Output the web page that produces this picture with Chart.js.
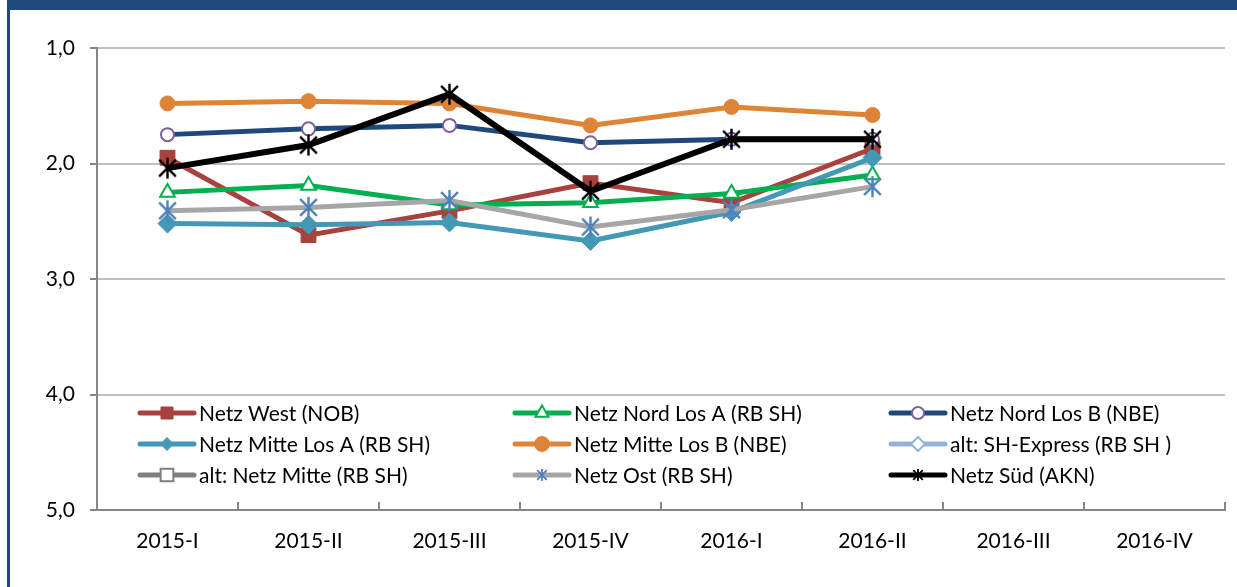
<!DOCTYPE html>
<html>
<head>
<meta charset="utf-8">
<script src="https://cdn.jsdelivr.net/npm/chart.js@4"></script>
<style>
  html, body { margin: 0; padding: 0; background: #fff; }
  #wrap { position: relative; width: 1237px; height: 587px; overflow: hidden; }
  #topbar { position: absolute; left: 7px; top: 0; width: 1230px; height: 10px; background: #1F497D; }
  #leftbar { position: absolute; left: 7px; top: 0; width: 3px; height: 587px; background: #1F497D; }
  #chart { position: absolute; left: 0; top: 0; }
</style>
</head>
<body>
<div id="wrap">
  <canvas id="chart" width="1237" height="587"></canvas>
  <div id="topbar"></div>
  <div id="leftbar"></div>
</div>
<script>
var categories = ['2015-I', '2015-II', '2015-III', '2015-IV', '2016-I', '2016-II', '2016-III', '2016-IV']

var netzWest   = [1.95, 2.62, 2.41, 2.17, 2.34, 1.87]
var nordLosA   = [2.25, 2.19, 2.36, 2.34, 2.26, 2.10]
var nordLosB   = [1.75, 1.70, 1.67, 1.82, 1.79, 1.79]
var mitteLosA  = [2.52, 2.53, 2.51, 2.67, 2.42, 1.95]
var mitteLosB  = [1.48, 1.46, 1.48, 1.67, 1.51, 1.58]
var shExpress  = []
var altMitte   = []
var netzOst    = [2.41, 2.38, 2.32, 2.55, 2.40, 2.20]
var netzSued   = [2.04, 1.84, 1.40, 2.24, 1.79, 1.79]

var yTicks = [1, 2, 3, 4, 5]

var fontFamily = "Lato, 'Open Sans', sans-serif"

// asterisk marker (vertical + x)
function makeStar(color, size, lw) {
    var c = document.createElement('canvas')
    c.width = size; c.height = size
    var g = c.getContext('2d')
    var m = size / 2, r = size / 2 - 1
    g.strokeStyle = color
    g.lineWidth = lw
    g.beginPath()
    g.moveTo(m, m - r); g.lineTo(m, m + r)
    g.moveTo(m - r * 0.8, m - r * 0.8); g.lineTo(m + r * 0.8, m + r * 0.8)
    g.moveTo(m + r * 0.8, m - r * 0.8); g.lineTo(m - r * 0.8, m + r * 0.8)
    g.stroke()
    return c
}

var starBlack = makeStar('#000000', 23, 2.4)
var starBlue = makeStar('#4F81BD', 23, 2.4)
var starBlackSmall = makeStar('#000000', 14, 1.8)
var starBlueSmall = makeStar('#4F81BD', 14, 1.8)

function series(label, data, line, style, radius, fill, border, bw, legendStyle, legendRadius) {
    return {
        label: label,
        data: data,
        borderColor: line,
        backgroundColor: line,
        borderWidth: label == 'Netz Süd (AKN)' ? 6 : 5,
        pointStyle: style,
        pointRadius: radius,
        pointBackgroundColor: fill,
        pointBorderColor: border,
        pointBorderWidth: bw,
        tension: 0,
        fill: false,
        legendStyle: legendStyle || style,
        legendRadius: legendRadius || radius
    }
}

var datasets = [
    series('Netz West (NOB)', netzWest, '#A8423F', 'rect', 10.5, '#A8423F', '#A8423F', 1, 'rect', 8.5),
    series('Netz Nord Los A (RB SH)', nordLosA, '#00B050', 'triangle', 8.5, '#ffffff', '#00B050', 2, 'triangle', 7.5),
    series('Netz Nord Los B (NBE)', nordLosB, '#1F497D', 'circle', 6.5, '#ffffff', '#7F60A0', 2, 'circle', 6),
    series('Netz Mitte Los A (RB SH)', mitteLosA, '#4298B5', 'rectRot', 9.5, '#4298B5', '#4298B5', 1, 'rectRot', 6.5),
    series('Netz Mitte Los B (NBE)', mitteLosB, '#DD8436', 'circle', 7.5, '#DD8436', '#DD8436', 1, 'circle', 7.5),
    series('alt: SH-Express (RB SH )', shExpress, '#95B3D7', 'rectRot', 7, '#ffffff', '#95B3D7', 2, 'rectRot', 7),
    series('alt: Netz Mitte (RB SH)', altMitte, '#7F7F7F', 'rect', 9, '#ffffff', '#7F7F7F', 2, 'rect', 9),
    series('Netz Ost (RB SH)', netzOst, '#A6A6A6', starBlue, 11, '#4F81BD', '#4F81BD', 1, starBlueSmall, 7),
    series('Netz Süd (AKN)', netzSued, '#000000', starBlack, 11, '#000000', '#000000', 1, starBlackSmall, 7)
]
// later series on top like in excel
datasets.forEach(function(d, i) { d.order = datasets.length - i })

var legendCols = [138, 513, 889]
var legendRows = [413, 444, 475]

var excelBits = {
    id: 'excelBits',
    afterDraw: function(chart) {
        var ctx = chart.ctx
        var a = chart.chartArea
        ctx.save()
        // small tick marks on the category axis, pointing up
        ctx.strokeStyle = '#868686'
        ctx.lineWidth = 2
        var n = categories.length
        for (var i = 0; i <= n; i++) {
            var x = a.left + i * (a.right - a.left) / n
            ctx.beginPath()
            ctx.moveTo(x, a.bottom)
            ctx.lineTo(x, a.bottom - 8)
            ctx.stroke()
        }
        // legend in the plot area
        ctx.font = '21px ' + fontFamily
        ctx.textBaseline = 'middle'
        ctx.textAlign = 'left'
        chart.data.datasets.forEach(function(d, i) {
            var x0 = legendCols[i % 3]
            var y0 = legendRows[Math.floor(i / 3)]
            ctx.strokeStyle = d.borderColor
            ctx.lineWidth = 5
            ctx.lineCap = 'round'
            ctx.beginPath()
            ctx.moveTo(x0 + 2, y0)
            ctx.lineTo(x0 + 56, y0)
            ctx.stroke()
            ctx.lineCap = 'butt'
            ctx.fillStyle = d.pointBackgroundColor
            ctx.strokeStyle = d.pointBorderColor
            ctx.lineWidth = d.pointBorderWidth
            Chart.helpers.drawPoint(ctx, {
                pointStyle: d.legendStyle,
                radius: d.legendRadius,
                rotation: 0,
                borderWidth: d.pointBorderWidth
            }, x0 + 29, y0)
            ctx.fillStyle = '#000000'
            ctx.fillText(d.label, x0 + 61, y0 + 1)
        })
        ctx.restore()
    }
}

var ctx = document.getElementById('chart')
var chartLine = new Chart(ctx, {
    type: 'line',
    data: {
        labels: categories,
        datasets: datasets
    },
    options: {
        responsive: false,
        animation: false,
        devicePixelRatio: 1,
        layout: {
            padding: { left: 0, right: 10, top: 48, bottom: 0 }
        },
        plugins: {
            legend: { display: false },
            tooltip: { enabled: false }
        },
        scales: {
            x: {
                offset: true,
                grid: {
                    drawOnChartArea: false,
                    drawTicks: false,
                    color: 'rgba(0,0,0,0)'
                },
                border: { display: true, color: '#868686', width: 2 },
                ticks: {
                    color: '#000000',
                    font: { family: fontFamily, size: 21 },
                    padding: 19,
                    maxRotation: 0,
                    autoSkip: false
                },
                afterFit: function(scale) { scale.height = 77 }
            },
            y: {
                reverse: true,
                min: 1,
                max: 5,
                afterBuildTicks: function(scale) {
                    scale.ticks = yTicks.map(function(v) { return { value: v } })
                },
                grid: {
                    color: function(c) {
                        return c.tick && c.tick.value === 5 ? 'rgba(0,0,0,0)' : '#BFBFBF'
                    },
                    lineWidth: 2,
                    tickLength: 7,
                    tickColor: '#868686',
                    drawTicks: true
                },
                border: { display: true, color: '#868686', width: 2 },
                ticks: {
                    color: '#000000',
                    font: { family: fontFamily, size: 21 },
                    padding: 15,
                    callback: function(value) {
                        return Number(value).toFixed(1).replace('.', ',')
                    }
                },
                afterFit: function(scale) { scale.width = 97 }
            }
        }
    },
    plugins: [excelBits]
})
</script>
</body>
</html>
